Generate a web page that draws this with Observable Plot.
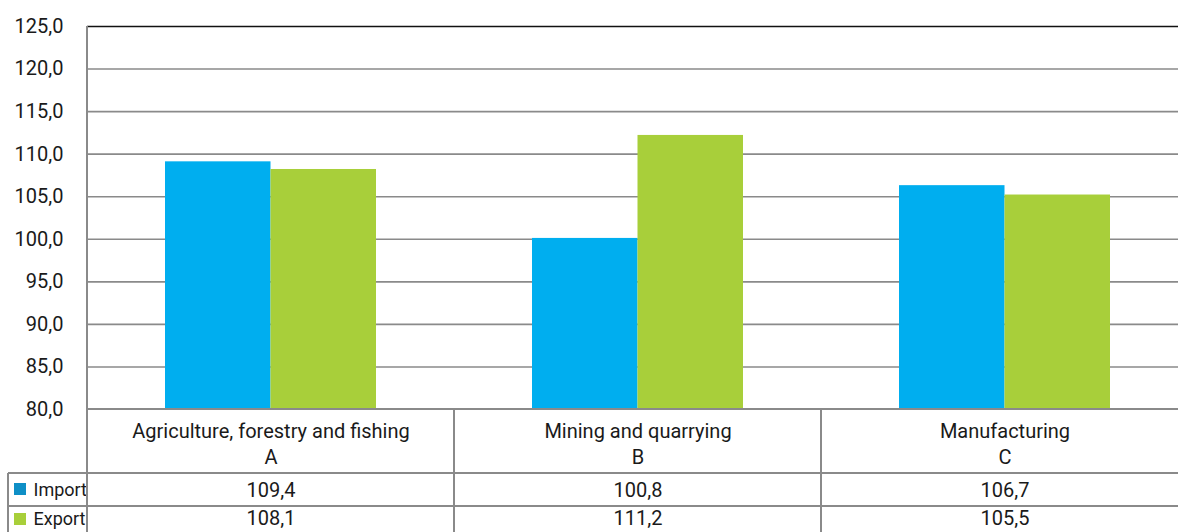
<!DOCTYPE html>
<html><head><meta charset="utf-8">
<script src="https://cdn.jsdelivr.net/npm/d3@7"></script>
<script src="https://cdn.jsdelivr.net/npm/@observablehq/plot@0.6"></script>
<style>
html,body{margin:0;padding:0;background:#fff;overflow:hidden}
#chart svg{display:block}
</style></head><body><div id="chart"></div>
<script>
// ---- data ----
const categories = ["Agriculture, forestry and fishing", "Mining and quarrying", "Manufacturing"];
const codes = ["A", "B", "C"];
const series = ["Import", "Export"];
const importValues = [109.1, 100.1, 106.3];   // bar heights as drawn
const exportValues = [108.2, 112.2, 105.2];
const importLabels = ["109,4", "100,8", "106,7"]; // table texts
const exportLabels = ["108,1", "111,2", "105,5"];
const yTicks = [80, 85, 90, 95, 100, 105, 110, 115, 120, 125];

// ---- layout / style ----
const W = 1178, H = 532;
const mL = 87, mT = 26, mB = 123;
const tableRight = 1188;
const importColor = "#00aeef", exportColor = "#a8cf3a";
const legendImport = "#0e8fc6";
const gridColor = "#8a8a8a";
const textColor = "#1a1a1a";
const fs = 20;
const fmt = d => d.toFixed(1).replace(".", ",");

const data = categories.flatMap((c, i) => [
  {category: c, series: "Import", value: importValues[i]},
  {category: c, series: "Export", value: exportValues[i]}
]);

const bandW = (tableRight - mL) / categories.length;
const barW = 105.5;
const outer = (bandW - 2 * barW) / 2;
const T = {frameAnchor: "bottom", lineAnchor: "middle", fill: textColor, fontSize: fs};

const chart = Plot.plot({
  width: W, height: H,
  marginLeft: mL, marginRight: 0, marginTop: mT, marginBottom: mB,
  style: {fontFamily: "Roboto", fontSize: fs + "px", color: textColor, background: "white"},
  x: {domain: categories, range: [mL, tableRight], padding: 0, axis: null},
  y: {domain: [80, 125], ticks: yTicks, tickFormat: fmt, tickSize: 0, tickPadding: 24, label: null},
  color: {domain: series, range: [importColor, exportColor]},
  marks: [
    Plot.ruleY(yTicks.filter(t => t > 80 && t < 125), {stroke: gridColor, strokeWidth: 1.6}),
    Plot.ruleY([125], {stroke: "#111", strokeWidth: 1.6}),
    Plot.barY(data.filter(d => d.series === "Import"), {
      x: "category", y1: 80, y2: "value", fill: "series",
      insetLeft: outer, insetRight: bandW - outer - barW
    }),
    Plot.barY(data.filter(d => d.series === "Export"), {
      x: "category", y1: 80, y2: "value", fill: "series",
      insetLeft: outer + barW, insetRight: outer
    }),
    Plot.text(categories, {...T, x: d => d, text: d => d, dy: 22}),
    Plot.text(categories, {...T, x: d => d, text: (d, i) => codes[i], dy: 48.5}),
    Plot.text(categories, {...T, x: d => d, text: (d, i) => importLabels[i], dy: 81}),
    Plot.text(categories, {...T, x: d => d, text: (d, i) => exportLabels[i], dy: 109}),
    Plot.text([series[0]], {...T, frameAnchor: "bottom-left", text: d => d, dx: -54, dy: 81, textAnchor: "start", fontSize: 18}),
    Plot.text([series[1]], {...T, frameAnchor: "bottom-left", text: d => d, dx: -54, dy: 110, textAnchor: "start", fontSize: 18})
  ]
});

document.getElementById("chart").appendChild(chart);

// ---- table grid + legend swatches (positions from the x scale) ----
const svg = d3.select(chart);
const xs = chart.scale("x");
const bottom = H - mB;
const row1 = bottom + 64, row2 = bottom + 97;
const tableLeft = 8;
const g = svg.append("g").attr("stroke", gridColor).attr("stroke-width", 2).attr("fill", "none");
const line = (x1, y1, x2, y2) => g.append("line").attr("x1", x1).attr("y1", y1).attr("x2", x2).attr("y2", y2);
line(mL, mT, mL, H);
line(mL, bottom, W, bottom);
line(tableLeft, row1, W, row1);
line(tableLeft, row2, W, row2);
line(tableLeft, row1, tableLeft, H);
categories.forEach((c, i) => {
  if (i > 0) { const x0 = xs.apply(c); line(x0, bottom, x0, H); }
});
const sw = svg.append("g");
sw.append("rect").attr("x", 14).attr("y", bottom + 74).attr("width", 12).attr("height", 12).attr("fill", legendImport);
sw.append("rect").attr("x", 14).attr("y", bottom + 104).attr("width", 12).attr("height", 12).attr("fill", exportColor);
</script></body></html>
